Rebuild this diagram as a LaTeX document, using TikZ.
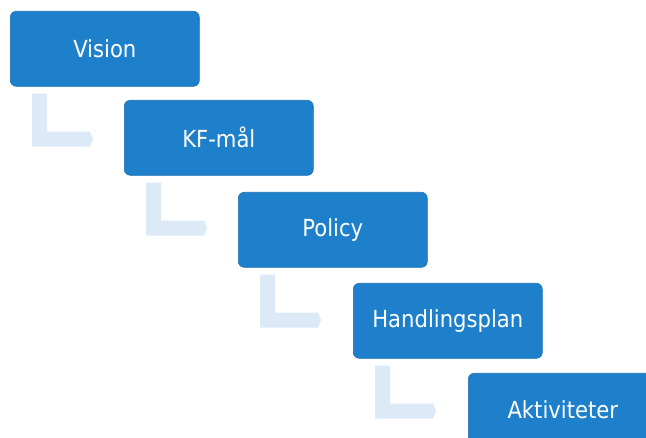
\documentclass[tikz,border=0pt]{standalone}
\usepackage{fontspec}
\setmainfont{DejaVu Sans Condensed}
\definecolor{boxblue}{RGB}{30,128,202}
\definecolor{boxedge}{RGB}{24,112,180}
\definecolor{elbow}{RGB}{220,234,247}
\begin{document}
\begin{tikzpicture}[x=1pt,y=-1pt,
  stepbox/.style={fill=boxblue,draw=boxedge,line width=0.6pt,rounded corners=6pt,
    minimum width=189pt,minimum height=75pt,text=white,anchor=north west,
    font=\fontsize{23.5}{26}\selectfont,inner sep=0pt}]
\useasboundingbox (0,0) rectangle (646,438);
\fill[white] (0,0) rectangle (646,438);
\node[stepbox] (vision) at (10,11) {Vision};
\node[stepbox] (kf) at (124,100) {KF-mål};
\node[stepbox] (policy) at (238,192) {Policy};
\node[stepbox] (hand) at (353,283) {Handlingsplan};
\node[stepbox] (akt) at (468,373) {\raisebox{2pt}{Aktiviteter}};
\foreach \n in {vision,kf,policy,hand}{
  \coordinate (c) at (\n.south west);
  \fill[elbow] ([shift={(22,7)}]c) -- ([shift={(22,60)}]c) -- ([shift={(80,60)}]c) -- ([shift={(83,52.5)}]c) -- ([shift={(80,45)}]c) -- ([shift={(37,45)}]c) -- ([shift={(37,7)}]c) -- cycle;
}
\end{tikzpicture}
\end{document}
